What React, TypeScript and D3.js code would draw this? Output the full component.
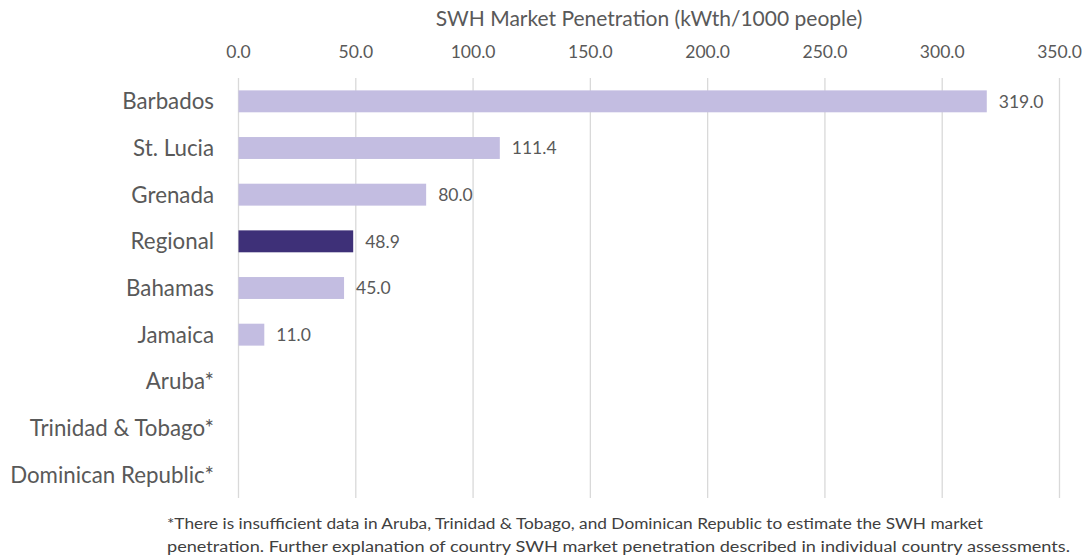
import React, { useEffect, useRef } from 'react';
import * as d3 from 'd3';

const countries = [
  'Barbados',
  'St. Lucia',
  'Grenada',
  'Regional',
  'Bahamas',
  'Jamaica',
  'Aruba*',
  'Trinidad & Tobago*',
  'Dominican Republic*',
];
const penetration: (number | null)[] = [319.0, 111.4, 80.0, 48.9, 45.0, 11.0, null, null, null];
const xTicks = [0, 50, 100, 150, 200, 250, 300, 350];
const footnote = [
  '*There is insufficient data in Aruba, Trinidad & Tobago, and Dominican Republic to estimate the SWH market',
  'penetration. Further explanation of country SWH market penetration described in individual country assessments.',
];

const FONT = "Lato, 'Open Sans', sans-serif";
const TEXT = '#595959';

export default function App() {
  const ref = useRef<SVGSVGElement | null>(null);

  useEffect(() => {
    const width = 1086,
      height = 560;
    const svg = d3.select(ref.current);
    svg.selectAll('*').remove();

    const x = d3.scaleLinear().domain([0, 350]).range([238.5, 1059.5]);
    const y = d3.scaleBand().domain(countries).range([78, 498]).paddingInner(0.53).paddingOuter(0.265);

    svg.append('rect').attr('width', width).attr('height', height).attr('fill', '#fff');

    // title
    svg.append('text')
      .attr('x', (x(0) + x(350)) / 2)
      .attr('y', 26)
      .attr('text-anchor', 'middle')
      .attr('font-family', FONT)
      .attr('font-size', 21)
      .attr('fill', TEXT)
      .text('SWH Market Penetration (kWth/1000 people)');

    // gridlines
    svg.append('g')
      .selectAll('line')
      .data(xTicks)
      .enter()
      .append('line')
      .attr('x1', (d) => x(d))
      .attr('x2', (d) => x(d))
      .attr('y1', 78)
      .attr('y2', 498)
      .attr('stroke', '#d9d9d9')
      .attr('stroke-width', 1.3);

    // tick labels on top
    svg.append('g')
      .selectAll('text')
      .data(xTicks)
      .enter()
      .append('text')
      .attr('x', (d) => x(d))
      .attr('y', 58)
      .attr('text-anchor', 'middle')
      .attr('font-family', FONT)
      .attr('font-size', 17.5)
      .attr('fill', TEXT)
      .text((d) => d3.format('.1f')(d));

    const rows = countries.map((c, i) => ({ name: c, value: penetration[i] }));

    // bars
    svg.append('g')
      .selectAll('rect')
      .data(rows.filter((d) => d.value !== null))
      .enter()
      .append('rect')
      .attr('x', x(0))
      .attr('y', (d) => y(d.name)!)
      .attr('width', (d) => x(d.value as number) - x(0))
      .attr('height', y.bandwidth())
      .attr('fill', (d) => (d.name === 'Regional' ? '#3e3078' : '#c3bde1'));

    // value labels
    svg.append('g')
      .selectAll('text')
      .data(rows.filter((d) => d.value !== null))
      .enter()
      .append('text')
      .attr('x', (d) => x(d.value as number) + 12)
      .attr('y', (d) => y(d.name)! + y.bandwidth() / 2)
      .attr('dy', '0.36em')
      .attr('font-family', FONT)
      .attr('font-size', 17.5)
      .attr('fill', TEXT)
      .text((d) => d3.format('.1f')(d.value as number));

    // category labels
    svg.append('g')
      .selectAll('text')
      .data(countries)
      .enter()
      .append('text')
      .attr('x', 214)
      .attr('y', (d) => y(d)! + y.bandwidth() / 2)
      .attr('dy', '0.36em')
      .attr('text-anchor', 'end')
      .attr('font-family', FONT)
      .attr('font-size', 22.3)
      .attr('fill', TEXT)
      .text((d) => d);

    // footnote
    svg.append('g')
      .selectAll('text')
      .data(footnote)
      .enter()
      .append('text')
      .attr('x', 167)
      .attr('y', (d, i) => 529 + i * 23)
      .attr('font-family', FONT)
      .attr('font-size', 14.5)
      .attr('fill', '#404040')
      .attr('textLength', (d, i) => (i === 0 ? 816 : 903))
      .attr('lengthAdjust', 'spacingAndGlyphs')
      .text((d) => d);
  }, []);

  return (
    <svg
      ref={ref}
      width={1086}
      height={560}
      style={{ position: 'absolute', left: 0, top: 0, display: 'block' }}
    />
  );
}
